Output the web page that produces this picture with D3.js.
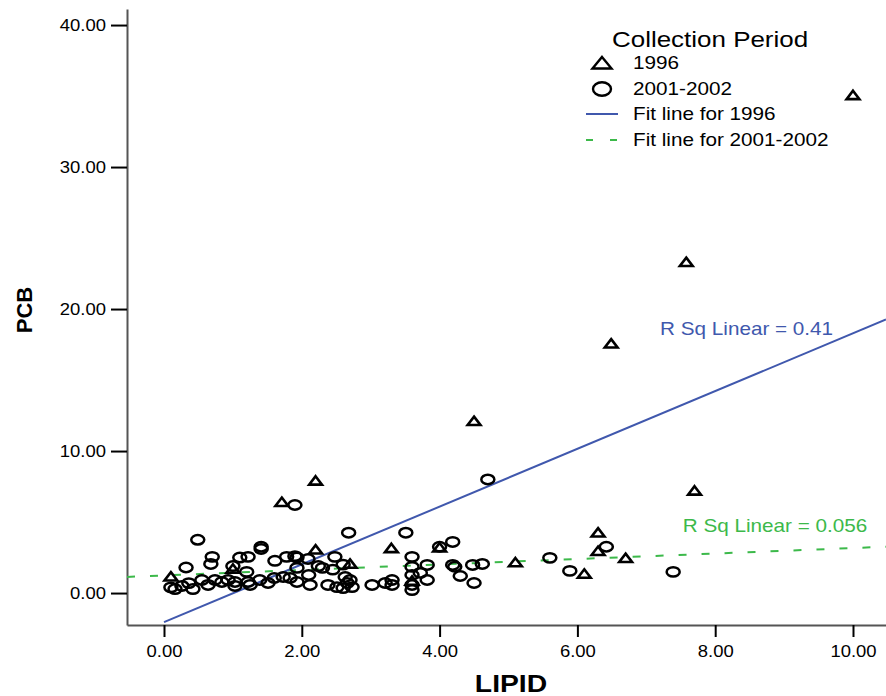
<!DOCTYPE html>
<html>
<head>
<meta charset="utf-8">
<script src="https://cdn.jsdelivr.net/npm/d3@7"></script>
<style>
  body { margin: 0; background: #fff; }
  svg { display: block; font-family: "Liberation Sans", Arial, sans-serif; }
</style>
</head>
<body>
<div id="chart"></div>
<script>
// 1996 samples: [lipid, pcb]
const points1996 = [
  [10.0, 35.05], [7.58, 23.3], [6.49, 17.56], [4.5, 12.1], [7.7, 7.2],
  [2.2, 7.9], [1.71, 6.4], [4.0, 3.2], [3.3, 3.15], [6.3, 4.25],
  [6.3, 2.95], [6.7, 2.45], [6.1, 1.35], [5.1, 2.15], [2.2, 3.05],
  [2.7, 2.05], [0.1, 1.15], [1.0, 1.7], [3.6, 0.85]
];

// 2001-2002 samples: [lipid, pcb]
const points2001 = [
  [1.9, 6.2], [4.7, 8.0], [0.49, 3.75], [0.7, 2.55], [0.68, 2.05],
  [0.32, 1.8], [1.0, 1.9], [1.1, 2.5], [1.22, 2.55], [1.41, 3.26],
  [1.41, 3.1], [1.61, 2.27], [1.78, 2.55], [1.9, 2.6], [1.93, 2.5],
  [2.09, 2.4], [2.24, 1.9], [2.48, 2.55], [2.6, 2.0], [2.68, 4.25],
  [2.45, 1.65], [0.1, 0.4], [0.16, 0.28], [0.26, 0.5], [0.36, 0.7],
  [0.42, 0.28], [0.55, 0.92], [0.64, 0.57], [0.74, 0.92], [0.84, 0.78],
  [0.93, 0.92], [1.03, 0.78], [1.03, 0.5], [1.2, 1.49], [1.22, 0.78],
  [1.25, 0.57], [1.39, 0.92], [1.51, 0.71], [1.6, 1.06], [1.73, 1.13],
  [1.83, 1.06], [1.93, 1.77], [2.1, 1.27], [2.12, 0.57], [2.3, 1.77],
  [1.93, 0.78], [2.38, 0.57], [2.51, 0.42], [2.66, 0.71], [2.63, 1.13],
  [2.7, 0.92], [2.6, 0.35], [2.73, 0.42], [3.02, 0.57], [3.21, 0.71],
  [3.31, 0.92], [3.31, 0.57], [3.51, 4.25], [4.19, 3.6], [4.0, 3.26],
  [3.6, 2.55], [3.6, 1.84], [3.6, 1.27], [3.72, 1.42], [3.82, 1.98],
  [3.82, 0.92], [3.6, 0.57], [3.6, 0.21], [4.19, 1.98], [4.22, 1.85],
  [4.3, 1.2], [4.48, 1.98], [4.62, 2.05], [4.5, 0.71], [5.6, 2.48],
  [5.89, 1.56], [6.42, 3.26], [7.39, 1.49]
];

// fit lines: [intercept, slope, r2]
const fit1996 = [-2.05, 2.034, 0.41];
const fit2001 = [1.24, 0.193, 0.056];

const xTicks = [0, 2, 4, 6, 8, 10];
const yTicks = [0, 10, 20, 30, 40];

const width = 886;
const height = 696;
const blue = "#4058ad";
const green = "#3cb94a";

const svg = d3.select("#chart").append("svg")
  .attr("width", width)
  .attr("height", height);

// Scales
const x = d3.scaleLinear().domain([-0.537, 10.479]).range([127, 886]);
const y = d3.scaleLinear().domain([-2.25, 41.13]).range([625, 9]);

const fmt = d3.format(".2f");

// stretch text horizontally a little, like the original
function stretch(sel, sx) {
  sel.each(function () {
    const t = d3.select(this);
    const tx = +t.attr("x") || 0;
    const ty = +t.attr("y") || 0;
    t.attr("x", 0).attr("y", 0)
      .attr("transform", `translate(${tx},${ty}) scale(${sx},1)`);
  });
}

// Axes
const xAxis = svg.append("g")
  .attr("transform", `translate(0,${y.range()[0]})`)
  .call(d3.axisBottom(x).tickValues(xTicks).tickFormat(fmt).tickSize(12).tickSizeOuter(0).tickPadding(8));

const yAxis = svg.append("g")
  .attr("transform", `translate(${x.range()[0]},0)`)
  .call(d3.axisLeft(y).tickValues(yTicks).tickFormat(fmt).tickSize(16).tickSizeOuter(0).tickPadding(5));

[xAxis, yAxis].forEach(ax => {
  ax.select(".domain").attr("stroke", "#555").attr("stroke-width", 2);
  ax.selectAll(".tick line").attr("stroke", "#000").attr("stroke-width", 2);
  ax.selectAll(".tick text")
    .attr("fill", "#000")
    .style("font-size", "16.5px")
    .style("font-family", "'Liberation Sans', Arial, sans-serif");
});
xAxis.selectAll(".tick text").each(function () {
  const t = d3.select(this);
  t.attr("transform", `translate(0,${t.attr("y")}) scale(1.12,1)`).attr("y", 0);
});
yAxis.selectAll(".tick text").each(function () {
  const t = d3.select(this);
  t.attr("transform", `translate(${t.attr("x")},0) scale(1.12,1)`).attr("x", 0);
});

// Axis titles
svg.append("text")
  .attr("x", 511).attr("y", 692)
  .attr("text-anchor", "middle")
  .style("font-size", "24px").style("font-weight", "bold")
  .text("LIPID")
  .call(stretch, 1.18);

svg.append("text")
  .attr("transform", "translate(32,310) rotate(-90)")
  .attr("text-anchor", "middle")
  .style("font-size", "22px").style("font-weight", "bold")
  .text("PCB");

// Fit lines
const plot = svg.append("g");
const [xMin, xMax] = x.domain();

plot.append("line")
  .attr("x1", x(xMin)).attr("y1", y(fit2001[0] + fit2001[1] * xMin))
  .attr("x2", x(xMax)).attr("y2", y(fit2001[0] + fit2001[1] * xMax))
  .attr("stroke", green).attr("stroke-width", 2)
  .attr("stroke-dasharray", "8,15");

plot.append("line")
  .attr("x1", x(0)).attr("y1", y(fit1996[0]))
  .attr("x2", x(xMax)).attr("y2", y(fit1996[0] + fit1996[1] * xMax))
  .attr("stroke", blue).attr("stroke-width", 2);

// Points
plot.selectAll("ellipse.p2001")
  .data(points2001)
  .join("ellipse")
  .attr("class", "p2001")
  .attr("cx", d => x(d[0]))
  .attr("cy", d => y(d[1]))
  .attr("rx", 6.5).attr("ry", 4.7)
  .attr("fill", "none")
  .attr("stroke", "#000")
  .attr("stroke-width", 2.5);

const triPath = "M0,-4.6L6.4,3.8L-6.4,3.8Z";
plot.selectAll("path.p1996")
  .data(points1996)
  .join("path")
  .attr("class", "p1996")
  .attr("d", triPath)
  .attr("transform", d => `translate(${x(d[0])},${y(d[1])})`)
  .attr("fill", "none")
  .attr("stroke", "#000")
  .attr("stroke-width", 2.6);

// R squared labels
svg.append("text")
  .attr("x", x(7.2)).attr("y", y(18.2))
  .attr("fill", blue)
  .style("font-size", "18px")
  .text(`R Sq Linear = ${fit1996[2]}`)
  .call(stretch, 1.15);

svg.append("text")
  .attr("x", x(7.53)).attr("y", y(4.3))
  .attr("fill", green)
  .style("font-size", "18px")
  .text(`R Sq Linear = ${fit2001[2]}`)
  .call(stretch, 1.15);

// Legend
const legend = svg.append("g");
legend.append("text")
  .attr("x", 612).attr("y", 47)
  .style("font-size", "22px")
  .text("Collection Period")
  .call(stretch, 1.18);

const legendRows = [
  { label: "1996", y: 63, kind: "tri" },
  { label: "2001-2002", y: 89, kind: "circ" },
  { label: "Fit line for 1996", y: 114, kind: "solid" },
  { label: "Fit line for 2001-2002", y: 140, kind: "dash" }
];

legendRows.forEach(r => {
  if (r.kind === "tri") {
    legend.append("path")
      .attr("d", "M0,-6L9.5,5.5L-9.5,5.5Z")
      .attr("transform", `translate(602,${r.y})`)
      .attr("fill", "none").attr("stroke", "#000").attr("stroke-width", 2.4);
  } else if (r.kind === "circ") {
    legend.append("ellipse")
      .attr("cx", 602).attr("cy", r.y)
      .attr("rx", 9).attr("ry", 6.8)
      .attr("fill", "none").attr("stroke", "#000").attr("stroke-width", 2.4);
  } else {
    legend.append("line")
      .attr("x1", 586).attr("x2", 618)
      .attr("y1", r.y).attr("y2", r.y)
      .attr("stroke", r.kind === "solid" ? blue : green)
      .attr("stroke-width", 2)
      .attr("stroke-dasharray", r.kind === "dash" ? "7,17" : null);
  }
  legend.append("text")
    .attr("x", 633).attr("y", r.y + 6)
    .style("font-size", "18px")
    .text(r.label)
    .call(stretch, 1.15);
});
</script>
</body>
</html>
